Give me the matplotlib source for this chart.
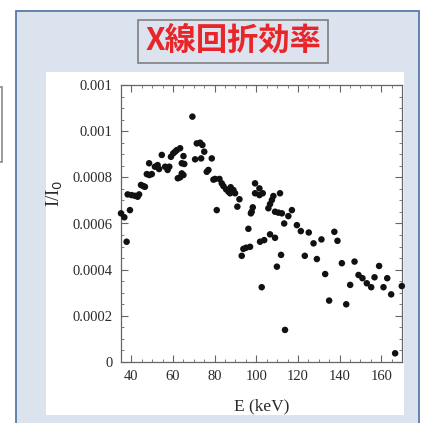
import matplotlib
matplotlib.use("Agg")
import matplotlib.pyplot as plt
from matplotlib.patches import Rectangle
from matplotlib.ticker import MultipleLocator, FixedLocator

# ---- data ----
energy_kev = [35.0, 36.6, 37.7, 39.3, 38.2, 40.1, 41.7, 43.0, 43.7, 44.6, 45.7, 46.5,
              47.4, 48.6, 49.8, 48.5, 51.3, 52.6, 53.3, 54.6, 56.2, 57.4, 58.2, 59.0,
              60.1, 61.0, 61.8, 63.4, 65.0, 64.2, 65.4, 62.3, 63.4, 64.2, 65.0, 69.3,
              70.6, 71.4, 73.0, 74.1, 75.0, 73.5, 78.6, 76.2, 77.0, 79.4, 80.2, 82.3,
              83.4, 84.2, 85.5, 86.6, 87.7, 89.0, 89.8, 87.4, 91.9, 90.9, 81.0, 99.4,
              101.5, 99.4, 101.5, 103.1, 98.3, 97.8, 97.4, 111.4, 108.2, 107.5, 106.6,
              105.8, 109.0, 110.6, 112.3, 117.1, 115.4, 96.2, 113.4, 119.5, 121.4, 125.2,
              127.5, 131.3, 137.5, 139.0, 93.0, 93.8, 95.1, 97.0, 101.8, 103.8, 106.6,
              109.0, 111.9, 109.9, 102.6, 113.8, 123.3, 129.1, 133.1, 135.0, 141.1,
              147.2, 145.1, 143.2, 149.1, 151.0, 153.1, 155.2, 156.8, 159.0, 161.1,
              162.9, 164.8, 169.9, 166.7]
intensity = [0.000644, 0.000627, 0.000521, 0.000658, 0.000726, 0.000723, 0.000720,
             0.000716, 0.000726, 0.000767, 0.000762, 0.000759, 0.000814, 0.000810,
             0.000814, 0.000861, 0.000846, 0.000853, 0.000836, 0.000897, 0.000846,
             0.000832, 0.000846, 0.000889, 0.000904, 0.000911, 0.000918, 0.000926,
             0.000892, 0.000861, 0.000858, 0.000796, 0.000800, 0.000817, 0.000810,
             0.001063, 0.000878, 0.000947, 0.000950, 0.000940, 0.000911, 0.000882,
             0.000882, 0.000824, 0.000832, 0.000790, 0.000793, 0.000793, 0.000774,
             0.000762, 0.000748, 0.000738, 0.000757, 0.000745, 0.000731, 0.000731,
             0.000705, 0.000673, 0.000658, 0.000774, 0.000752, 0.000731, 0.000723,
             0.000731, 0.000670, 0.000651, 0.000644, 0.000731, 0.000719, 0.000702,
             0.000684, 0.000666, 0.000651, 0.000647, 0.000644, 0.000658, 0.000632,
             0.000577, 0.000600, 0.000593, 0.000567, 0.000561, 0.000514, 0.000531,
             0.000564, 0.000525, 0.000460, 0.000490, 0.000495, 0.000499, 0.000521,
             0.000528, 0.000553, 0.000538, 0.000464, 0.000413, 0.000324, 0.000139,
             0.000460, 0.000446, 0.000381, 0.000266, 0.000428, 0.000435, 0.000334,
             0.000250, 0.000377, 0.000363, 0.000341, 0.000324, 0.000367, 0.000416,
             0.000324, 0.000363, 0.000293, 0.000329, 0.0000377]

x_ticks = [40, 60, 80, 100, 120, 140, 160]
y_ticks = [0, 0.0002, 0.0004, 0.0006, 0.0008, 0.001, 0.0012]
y_tick_labels = ["0", "0.0002", "0.0004", "0.0006", "0.0008", "0.001", "0.001"]
title_text = "X線回折効率"

W, H = 425, 423
fig = plt.figure(figsize=(W / 100, H / 100), dpi=100)
fig.patch.set_facecolor("white")


def fx(px):
    return px / W


def fy(py):
    return 1 - py / H


# outer light-blue panel
fig.patches.append(Rectangle((fx(16), fy(440)), fx(419) - fx(16), fy(10.7) - fy(440),
                             transform=fig.transFigure, facecolor="#dbe3ef",
                             edgecolor="#5a78a8", linewidth=1.3, zorder=0))
# partial box at far left
fig.patches.append(Rectangle((fx(-20), fy(162)), fx(1.5) - fx(-20), fy(87) - fy(162),
                             transform=fig.transFigure, facecolor="#ffffff",
                             edgecolor="#8a8a8a", linewidth=1.2, zorder=0))
# title box
fig.patches.append(Rectangle((fx(138), fy(63)), fx(328) - fx(138), fy(20) - fy(63),
                             transform=fig.transFigure, facecolor="#dde3ee",
                             edgecolor="#7f7f7f", linewidth=1.2, zorder=1))
fig.text(fx(233), fy(41), title_text, ha="center", va="center", color="#e8262a",
         fontsize=22.5, fontweight="bold", family=["Noto Sans CJK JP", "DejaVu Sans"])
# white plot panel
fig.patches.append(Rectangle((fx(46), fy(415)), fx(404) - fx(46), fy(72) - fy(415),
                             transform=fig.transFigure, facecolor="white",
                             edgecolor="none", zorder=1))

ax = fig.add_axes([fx(121), fy(362), fx(402) - fx(121), fy(85) - fy(362)])
ax.set_zorder(5)
ax.set_facecolor("white")
ax.scatter(energy_kev, intensity, s=22, color="#111111", edgecolors="none",
           clip_on=False, zorder=3)

ax.set_xlim(35, 170)
ax.set_ylim(0, 0.0012)
ax.xaxis.set_major_locator(FixedLocator(x_ticks))
ax.xaxis.set_minor_locator(MultipleLocator(5))
ax.yaxis.set_major_locator(FixedLocator(y_ticks))
ax.set_yticklabels(y_tick_labels)
ax.yaxis.set_minor_locator(MultipleLocator(0.00005))

serif = ["Liberation Serif", "DejaVu Serif"]
for lab in ax.get_xticklabels() + ax.get_yticklabels():
    lab.set_family(serif)
    lab.set_fontsize(10.5)
    lab.set_color("#2a2a2a")

ax.tick_params(which="both", direction="in", top=True, right=True, color="#666666")
ax.tick_params(which="major", length=5, width=0.8, pad=6)
ax.tick_params(which="minor", length=2.5, width=0.6)
for sp in ax.spines.values():
    sp.set_color("#666666")
    sp.set_linewidth(0.9)

ax.set_xlabel("E (keV)", family=serif, fontsize=12.5, color="#2a2a2a")
ax.set_ylabel(r"I/I$_0$", family=serif, fontsize=13.5, color="#2a2a2a")
ax.xaxis.set_label_coords(0.5, -0.13)
ax.yaxis.set_label_coords(-0.2, 0.61)

fig.savefig("out.png", dpi=100, facecolor="white")
